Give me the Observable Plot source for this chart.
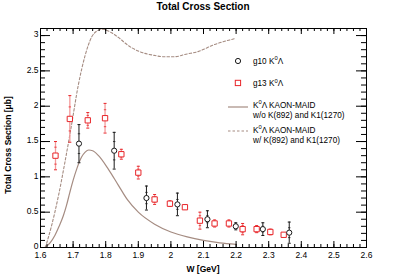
<!DOCTYPE html>
<html><head><meta charset="utf-8">
<script src="https://cdn.jsdelivr.net/npm/d3@7"></script>
<script src="https://cdn.jsdelivr.net/npm/@observablehq/plot@0.6"></script>
<style>
html,body{margin:0;padding:0;background:#fff;}
#chart{position:relative;width:407px;height:276px;}
svg{font-family:"Liberation Sans",Arial,Helvetica,sans-serif;}
</style></head><body><div id="chart"></div>
<script>
// ---- data (W in GeV, cross section in μb) ----
const g10W    = [1.718, 1.826, 1.925, 2.020, 2.112, 2.199, 2.282, 2.363];
const g10Sig  = [1.47, 1.37, 0.70, 0.61, 0.40, 0.30, 0.26, 0.21];
const g10Err  = [0.27, 0.26, 0.17, 0.16, 0.12, 0.05, 0.09, 0.15];
const g10Stat = [0.14, 0.13, 0.08, 0.07, 0.05, 0.03, 0.04, 0.07];

const g13W    = [1.646, 1.690, 1.745, 1.798, 1.848, 1.900, 1.950, 1.997, 2.043, 2.089, 2.134, 2.178, 2.220, 2.263, 2.305, 2.346];
const g13Sig  = [1.30, 1.82, 1.80, 1.83, 1.32, 1.06, 0.68, 0.62, 0.57, 0.38, 0.34, 0.34, 0.26, 0.26, 0.22, 0.18];
const g13Err  = [0.20, 0.33, 0.11, 0.21, 0.07, 0.09, 0.07, 0.04, 0.03, 0.12, 0.05, 0.05, 0.08, 0.05, 0.04, 0.02];
const g13Stat = [0.12, 0.17, 0.07, 0.12, 0.04, 0.05, 0.04, 0.03, 0.02, 0.07, 0.03, 0.03, 0.05, 0.03, 0.03, 0.01];

const maidW   = [1.613, 1.63, 1.644, 1.657, 1.670, 1.680, 1.690, 1.700, 1.711, 1.726, 1.737, 1.748, 1.760, 1.778, 1.808, 1.839, 1.866, 1.90, 1.95, 2.00, 2.05, 2.10, 2.15, 2.20];
const maidSig = [0, 0.07, 0.17, 0.30, 0.45, 0.60, 0.78, 0.95, 1.11, 1.28, 1.35, 1.38, 1.37, 1.30, 1.11, 0.88, 0.68, 0.50, 0.33, 0.22, 0.15, 0.10, 0.065, 0.045];

const maidKW   = [1.615, 1.634, 1.655, 1.675, 1.695, 1.716, 1.737, 1.757, 1.775, 1.790, 1.818, 1.84, 1.866, 1.90, 1.948, 1.98, 2.009, 2.05, 2.081, 2.132, 2.199];
const maidKSig = [0, 0.31, 0.73, 1.21, 1.73, 2.30, 2.72, 2.98, 3.07, 3.09, 3.04, 2.97, 2.87, 2.78, 2.72, 2.70, 2.70, 2.74, 2.77, 2.87, 2.96];

const xTicks = [1.6, 1.7, 1.8, 1.9, 2.0, 2.1, 2.2, 2.3, 2.4, 2.5, 2.6];
const xTickLabels = ["1.6","1.7","1.8","1.9","2","2.1","2.2","2.3","2.4","2.5","2.6"];
const yTicks = [0, 0.5, 1, 1.5, 2, 2.5, 3];
const yTickLabels = ["0","0.5","1","1.5","2","2.5","3"];

const legendLabels = [["g10 K","0","Λ"], ["g13 K","0","Λ"], ["K","0","Λ KAON-MAID"], ["K","0","Λ KAON-MAID"]];
const legendLine2 = [null, null, "w/o K(892) and K1(1270)", "w/ K(892) and K1(1270)"];
const titleText = "Total Cross Section";
const xLabel = "W [GeV]";
const yLabel = "Total Cross Section [μb]";

// ---- build tables ----
const g10 = g10W.map((w,i)=>({w, s:g10Sig[i], e:g10Err[i], st:g10Stat[i]}));
const g13 = g13W.map((w,i)=>({w, s:g13Sig[i], e:g13Err[i], st:g13Stat[i]}));
const maid = maidW.map((w,i)=>({w, s:maidSig[i]}));
const maidK = maidKW.map((w,i)=>({w, s:maidKSig[i]}));

const W = 407, H = 276, mL = 40, mR = 41, mT = 28, mB = 29;
const fw = W - mL - mR, fh = H - mT - mB;
const xMinor = d3.range(0, 51).map(i => 1.6 + i*0.02);
const yMinor = d3.range(0, 31).map(i => i*0.1);

const curveCol = "#a58c82";
const redCol = "#e8262a";
const redBar = "#f39a9a";
const blackCol = "#1a1a1a";
const capSym = {draw(ctx, size){ const w = Math.sqrt(size/Math.PI); ctx.moveTo(-w,0); ctx.lineTo(w,0); }};

const xFmt = d => xTickLabels[xTicks.indexOf(d)];
const yFmt = d => yTickLabels[yTicks.indexOf(d)];

const plot = Plot.plot({
  width: W, height: H,
  marginLeft: mL, marginRight: mR, marginTop: mT, marginBottom: mB,
  style: {fontFamily: '"Liberation Sans", Arial, sans-serif', fontSize: "8.5px", background: "#fff", color: "#000"},
  x: {domain: [1.6, 2.6], label: null},
  y: {domain: [0, 3.1], label: null},
  marks: [
    // curves
    Plot.line(maid, {x: "w", y: "s", stroke: curveCol, strokeWidth: 1.2, curve: "monotone-x", clip: true}),
    Plot.line(maidK, {x: "w", y: "s", stroke: curveCol, strokeWidth: 1.1, strokeDasharray: "2.5,2", curve: "monotone-x", clip: true}),
    // g13 error bars
    Plot.ruleX(g13, {x: "w", y1: d => d.s - d.e, y2: d => d.s + d.e, stroke: redBar, strokeWidth: 1.3}),
    Plot.dot(g13, {x: "w", y: d => d.s + d.e, symbol: capSym, r: 1.5, stroke: redCol, strokeWidth: 1}),
    Plot.dot(g13, {x: "w", y: d => d.s - d.e, symbol: capSym, r: 1.5, stroke: redCol, strokeWidth: 1}),
    Plot.dot(g13, {x: "w", y: d => d.s + d.st, symbol: capSym, r: 1.2, stroke: redCol, strokeWidth: 0.8}),
    Plot.dot(g13, {x: "w", y: d => d.s - d.st, symbol: capSym, r: 1.2, stroke: redCol, strokeWidth: 0.8}),
    Plot.dot(g13, {x: "w", y: "s", symbol: "square", r: 3, stroke: redCol, fill: "#fff", strokeWidth: 1}),
    // g10 error bars
    Plot.ruleX(g10, {x: "w", y1: d => d.s - d.e, y2: d => d.s + d.e, stroke: blackCol, strokeWidth: 1}),
    Plot.dot(g10, {x: "w", y: d => d.s + d.e, symbol: capSym, r: 1.5, stroke: blackCol, strokeWidth: 1}),
    Plot.dot(g10, {x: "w", y: d => d.s - d.e, symbol: capSym, r: 1.5, stroke: blackCol, strokeWidth: 1}),
    Plot.dot(g10, {x: "w", y: d => d.s + d.st, symbol: capSym, r: 1.2, stroke: blackCol, strokeWidth: 0.8}),
    Plot.dot(g10, {x: "w", y: d => d.s - d.st, symbol: capSym, r: 1.2, stroke: blackCol, strokeWidth: 0.8}),
    Plot.dot(g10, {x: "w", y: "s", symbol: "circle", r: 2.6, stroke: blackCol, fill: "#fff", strokeWidth: 1}),
    // ticks (inside, all four sides)
    Plot.tickX(xMinor, {x: d => d, insetTop: fh - 3, stroke: "#000"}),
    Plot.tickX(xMinor, {x: d => d, insetBottom: fh - 3, stroke: "#000"}),
    Plot.tickX(xTicks, {x: d => d, insetTop: fh - 6, stroke: "#000"}),
    Plot.tickX(xTicks, {x: d => d, insetBottom: fh - 6, stroke: "#000"}),
    Plot.tickY(yMinor, {y: d => d, insetRight: fw - 5, stroke: "#000"}),
    Plot.tickY(yMinor, {y: d => d, insetLeft: fw - 5, stroke: "#000"}),
    Plot.tickY(yTicks, {y: d => d, insetRight: fw - 10, stroke: "#000"}),
    Plot.tickY(yTicks, {y: d => d, insetLeft: fw - 10, stroke: "#000"}),
    Plot.frame({stroke: "#000", strokeWidth: 1}),
    Plot.axisX({ticks: xTicks, tickFormat: xFmt, tickSize: 0, tickPadding: 4, label: null, fontSize: 8.5}),
    Plot.axisY({ticks: yTicks, tickFormat: yFmt, tickSize: 0, tickPadding: 2, dy: -1, label: null, fontSize: 8.5})
  ]
});
document.getElementById("chart").appendChild(plot);

// ---- annotations: title, axis titles, legend ----
const svg = d3.select(plot);
const ff = '"Liberation Sans", Arial, sans-serif';
svg.append("text").attr("x", (mL + W - mR)/2).attr("y", 9.6).attr("text-anchor", "middle")
  .attr("font-family", ff).attr("font-size", 10).attr("font-weight", "bold").text(titleText);
svg.append("text").attr("x", (mL + W - mR)/2).attr("y", 272).attr("text-anchor", "middle")
  .attr("font-family", ff).attr("font-size", 8.5).attr("font-weight", "bold").text(xLabel);
svg.append("text").attr("transform", "translate(11.3,145) rotate(-90)").attr("text-anchor", "middle")
  .attr("font-family", ff).attr("font-size", 8.5).attr("font-weight", "bold").text(yLabel);

const lg = svg.append("g").attr("font-family", ff).attr("font-size", 8.2).attr("text-anchor", "start");
const rowY = [63.5, 86, 107.5, 132.5];
const textX = 253;
function supText(sel, parts, x, y){
  const t = sel.append("text").attr("x", x).attr("y", y).attr("text-anchor", "start");
  t.append("tspan").text(parts[0]);
  t.append("tspan").attr("dy", -3.5).attr("font-size", 5.8).text(parts[1]);
  t.append("tspan").attr("dy", 3.5).text(parts[2]);
}
legendLabels.forEach((p, i) => supText(lg, p, textX, rowY[i]));
legendLine2.forEach((s, i) => { if (s) lg.append("text").attr("x", textX).attr("y", rowY[i] + 10).attr("text-anchor", "start").text(s); });
lg.append("circle").attr("cx", 238).attr("cy", 61).attr("r", 2.6).attr("fill", "#fff").attr("stroke", blackCol);
lg.append("rect").attr("x", 235.3).attr("y", 80.3).attr("width", 5.3).attr("height", 5.3).attr("fill", "#fff").attr("stroke", redCol);
lg.append("line").attr("x1", 228).attr("x2", 248).attr("y1", 107).attr("y2", 107).attr("stroke", curveCol).attr("stroke-width", 1.2);
lg.append("line").attr("x1", 228).attr("x2", 248).attr("y1", 131).attr("y2", 131).attr("stroke", curveCol).attr("stroke-width", 1.1).attr("stroke-dasharray", "2.5,2");
</script>
</body></html>
